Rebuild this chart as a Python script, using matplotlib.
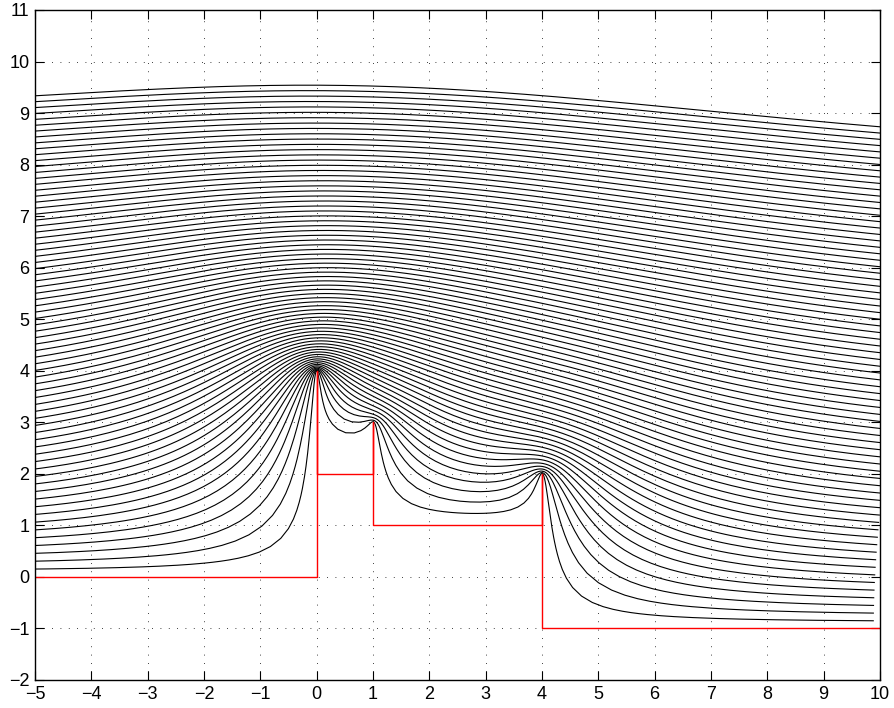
import numpy as np
import matplotlib.pyplot as plt

# wall (red line), corners in order along the boundary
wall_x = [-5, 0, 0, 0, 1, 1, 1, 4, 4, 4, 10]
wall_y = [0, 0, 4, 2, 2, 3, 1, 1, 2, -1, -1]
# interior angle / pi at each finite corner of the wall
corner_angle = [0.5, 2, 0.5, 0.5, 2, 0.5, 0.5, 2, 0.5]

# streamline levels (Im z in the upper half plane)
levels = [0.12, 0.24, 0.36, 0.48, 0.60, 0.72, 0.84, 0.96, 1.08, 1.20,
          1.32, 1.44, 1.56, 1.68, 1.80, 1.92, 2.04, 2.16, 2.28, 2.40,
          2.52, 2.64, 2.76, 2.88, 3.00, 3.12, 3.24, 3.36, 3.48, 3.60,
          3.72, 3.84, 3.96, 4.08, 4.20, 4.32, 4.44, 4.56, 4.68, 4.80,
          4.92, 5.04, 5.16, 5.28, 5.40, 5.52, 5.64, 5.76, 5.88, 6.00,
          6.12, 6.24, 6.36, 6.48, 6.60, 6.72, 6.84, 6.96, 7.08, 7.20,
          7.32, 7.44, 7.56, 7.68, 7.80, 7.92, 8.04, 8.16, 8.28, 8.40,
          8.52, 8.64, 8.76]

# streamlines stop here on the right
line_end_x = 9.88

xticks = list(range(-5, 11))
yticks = list(range(-2, 12))

w = np.array(wall_x[1:-1]) + 1j * np.array(wall_y[1:-1])
beta = np.array(corner_angle) - 1
side = np.abs(np.diff(w))
gx, gw = np.polynomial.legendre.leggauss(60)
g6x, g6w = np.polynomial.legendre.leggauss(6)


def fp(z, xp):
    # Schwarz-Christoffel derivative
    out = np.ones_like(z, dtype=complex)
    for xk, bk in zip(xp, beta):
        out = out * (z - xk) ** bk
    return out


def fp_abs(s, xp):
    out = np.ones_like(s, dtype=float)
    for xk, bk in zip(xp, beta):
        out = out * np.abs(s - xk) ** bk
    return out


def half_int(end, other, xp):
    # length along the real axis starting at a prevertex (u^2 substitution)
    umax = np.sqrt(abs(other - end))
    sg = np.sign(other - end)
    u = 0.5 * umax * (gx + 1)
    s = end + sg * u ** 2
    return np.sum(0.5 * umax * gw * 2 * u * fp_abs(s, xp))


def prevert(y):
    return np.concatenate([[0.0], np.cumsum(np.exp(y))])


def resid(y):
    xp = prevert(y)
    r = []
    for k in range(len(side)):
        m = 0.5 * (xp[k] + xp[k + 1])
        L = half_int(xp[k], m, xp) + half_int(xp[k + 1], m, xp)
        r.append(np.log(L / side[k]))
    return np.array(r)


# solve the parameter problem (Newton)
n = len(side)
y = np.log(side.copy())
for it in range(80):
    r = resid(y)
    if np.max(np.abs(r)) < 1e-12:
        break
    J = np.zeros((n, n))
    for j in range(n):
        dy = np.zeros(n)
        dy[j] = 1e-7
        J[:, j] = (resid(y + dy) - r) / 1e-7
    step = np.linalg.solve(J, -r)
    lam = 1.0
    while lam > 1e-4:
        if np.linalg.norm(resid(y + lam * step)) < np.linalg.norm(r):
            break
        lam /= 2
    y = y + lam * step
xp = prevert(y)

# right end of the lines in the z plane
lo, hi = xp[-1] + 1e-6, xp[-1] + 50
for _ in range(60):
    mid = 0.5 * (lo + hi)
    if w[-1].real + half_int(xp[-1], mid, xp) < line_end_x:
        lo = mid
    else:
        hi = mid
t_end = 0.5 * (lo + hi)

# anchor on the real axis left of the first corner, then go up
p = xp[0] - 1.0
f_p = w[0] - half_int(xp[0], p, xp)
lv = np.sort(np.array(levels))
bp = np.concatenate([[0.0], lv])
a, b = bp[:-1], bp[1:]
tt = 0.5 * (a + b)[:, None] + 0.5 * (b - a)[:, None] * g6x[None, :]
vals = fp(p + 1j * tt, xp) * 1j * (0.5 * (b - a))[:, None] * g6w[None, :]
start = f_p + np.cumsum(vals.sum(axis=1))


def trace(c, f0, t0, t1):
    h = min(0.1, c / 2)
    m = int(np.ceil(abs(t1 - t0) / h))
    e = np.linspace(t0, t1, m + 1)
    a, b = e[:-1], e[1:]
    t = 0.5 * (a + b)[:, None] + 0.5 * (b - a)[:, None] * g6x[None, :]
    v = fp(t + 1j * c, xp) * (0.5 * (b - a))[:, None] * g6w[None, :]
    return np.concatenate([[f0], f0 + np.cumsum(v.sum(axis=1))])


plt.rcParams['font.family'] = ['Liberation Sans', 'DejaVu Sans']
fig = plt.figure(figsize=(8.95, 7.08), dpi=100)
ax = fig.add_axes([35 / 895, 1 - 680 / 708, 845 / 895, 670 / 708])

for c, f0 in zip(lv, start):
    left = trace(c, f0, p, p - 40)
    right = trace(c, f0, p, t_end)
    zz = np.concatenate([left[::-1], right[1:]])
    ax.plot(zz.real, zz.imag, color='black', lw=0.8)

ax.plot(wall_x, wall_y, color='red', lw=1.0)

ax.set_xlim(-5, 10)
ax.set_ylim(-2, 11)
ax.set_xticks(xticks)
ax.set_yticks(yticks)
ax.set_axisbelow(True)
ax.grid(True, color='black', linestyle=(0, (1, 9)), lw=0.6)
ax.tick_params(direction='in', length=6.5, width=0.8, top=True, right=True,
               labelsize=13, pad=4, colors='black')
for s in ax.spines.values():
    s.set_linewidth(1.0)

fig.savefig('out.png')
